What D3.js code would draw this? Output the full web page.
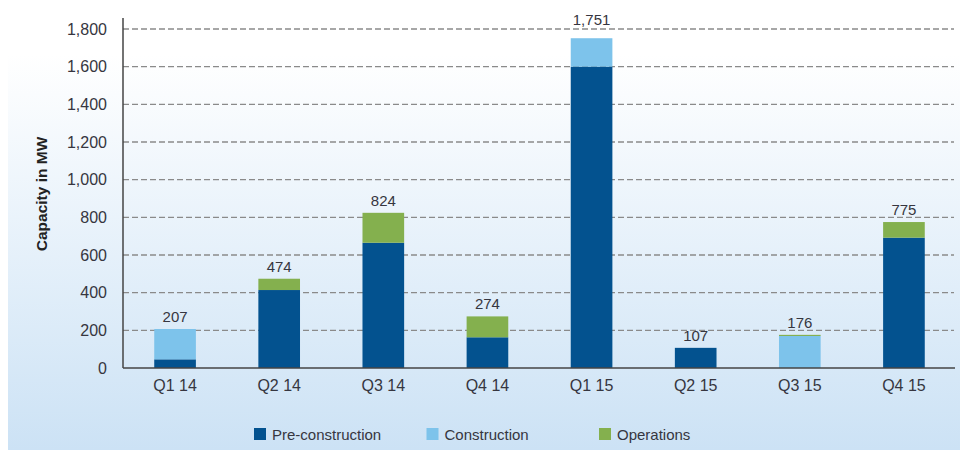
<!DOCTYPE html>
<html>
<head>
<meta charset="utf-8">
<script src="https://cdn.jsdelivr.net/npm/d3@7"></script>
<style>
    body { margin: 0; background: #fff; }
    svg text { font-family: "Liberation Sans", Arial, sans-serif; fill: #363640; }
</style>
</head>
<body>
<div id="capacityChart"></div>
<script>
// Chart data
var quarters = ["Q1 14", "Q2 14", "Q3 14", "Q4 14", "Q1 15", "Q2 15", "Q3 15", "Q4 15"];
var preConstruction = [46, 414, 665, 163, 1600, 107, 0, 692];
var construction = [161, 0, 0, 0, 151, 0, 170, 0];
var operations = [0, 60, 159, 111, 0, 0, 6, 83];
var totals = [207, 474, 824, 274, 1751, 107, 176, 775];
var yTicks = [0, 200, 400, 600, 800, 1000, 1200, 1400, 1600, 1800];
var seriesKeys = ["Pre-construction", "Construction", "Operations"];
var seriesColors = ["#03528f", "#7dc3eb", "#84b04e"];

// Setting chart parameters
var properties = { width: 960, height: 450 };
var plot = { left: 123, right: 956, top: 18, bottom: 368 };

var svg = d3.select("#capacityChart")
    .append("svg")
    .attr("width", properties.width)
    .attr("height", properties.height);

// Background gradient panel
var grad = svg.append("defs").append("linearGradient")
    .attr("id", "bgGrad")
    .attr("x1", 0).attr("y1", 0).attr("x2", 0).attr("y2", 1);
grad.append("stop").attr("offset", "0.12").attr("stop-color", "#ffffff");
grad.append("stop").attr("offset", "1").attr("stop-color", "#cce2f5");

svg.append("rect")
    .attr("x", 8).attr("y", 0)
    .attr("width", properties.width - 8)
    .attr("height", properties.height)
    .attr("fill", "url(#bgGrad)");

// Building rows for stacking
var rows = quarters.map(function (q, i) {
    return {
        quarter: q,
        "Pre-construction": preConstruction[i],
        "Construction": construction[i],
        "Operations": operations[i],
        total: totals[i]
    };
});

var xScale = d3.scaleBand()
    .domain(quarters)
    .range([plot.left, plot.right])
    .paddingInner(0.6)
    .paddingOuter(0.3);

var yScale = d3.scaleLinear()
    .domain([0, 1800])
    .range([plot.bottom, 29]);

var colorScale = d3.scaleOrdinal().domain(seriesKeys).range(seriesColors);

// Dashed gridlines
svg.append("g")
    .attr("class", "grid")
    .selectAll("line")
    .data(yTicks.filter(function (d) { return d > 0; }))
    .enter()
    .append("line")
    .attr("x1", plot.left)
    .attr("x2", 954)
    .attr("y1", function (d) { return yScale(d); })
    .attr("y2", function (d) { return yScale(d); })
    .attr("stroke", "#8a8a8a")
    .attr("stroke-width", 1.3)
    .attr("stroke-dasharray", "6,3");

// Stacked bars
var stacked = d3.stack().keys(seriesKeys)(rows);

svg.append("g")
    .selectAll("g")
    .data(stacked)
    .enter()
    .append("g")
    .attr("fill", function (d) { return colorScale(d.key); })
    .selectAll("rect")
    .data(function (d) { return d; })
    .enter()
    .append("rect")
    .attr("x", function (d) { return xScale(d.data.quarter); })
    .attr("width", xScale.bandwidth())
    .attr("y", function (d) { return yScale(d[1]); })
    .attr("height", function (d) { return yScale(d[0]) - yScale(d[1]); });

// Total labels (lifted above the top gridline when they would cross it)
var topLine = yScale(1800);
svg.append("g")
    .selectAll("text")
    .data(rows)
    .enter()
    .append("text")
    .attr("x", function (d) { return xScale(d.quarter) + xScale.bandwidth() / 2; })
    .attr("y", function (d) {
        var y = yScale(d.total) - 7;
        return (y > topLine - 4 && y < topLine + 12) ? topLine - 4 : y;
    })
    .attr("text-anchor", "middle")
    .attr("font-size", 15)
    .text(function (d) { return d3.format(",")(d.total); });

// Y axis
var yAxis = svg.append("g")
    .attr("transform", "translate(" + plot.left + ",0)")
    .call(d3.axisLeft(yScale).tickValues(yTicks).tickFormat(d3.format(",")).tickSize(0).tickPadding(16));
yAxis.select(".domain").remove();
yAxis.selectAll("text").attr("font-size", 16).attr("font-family", null).attr("fill", null);

svg.append("line")
    .attr("x1", plot.left).attr("x2", plot.left)
    .attr("y1", plot.top).attr("y2", plot.bottom)
    .attr("stroke", "#444").attr("stroke-width", 1.5);

// X axis
var xAxis = svg.append("g")
    .attr("transform", "translate(0," + plot.bottom + ")")
    .call(d3.axisBottom(xScale).tickSize(0).tickPadding(12));
xAxis.select(".domain").remove();
xAxis.selectAll("text").attr("font-size", 16).attr("font-family", null).attr("fill", null);

svg.append("line")
    .attr("x1", plot.left).attr("x2", 955)
    .attr("y1", plot.bottom).attr("y2", plot.bottom)
    .attr("stroke", "#444").attr("stroke-width", 1.5);

// Y axis title
svg.append("text")
    .attr("transform", "translate(47,194) rotate(-90)")
    .attr("text-anchor", "middle")
    .attr("font-size", 15.5)
    .attr("font-weight", "bold")
    .style("fill", "#222")
    .text("Capacity in MW");

// Legend
var legendX = d3.scalePoint().domain(seriesKeys).range([254, 599]);

var legend = svg.append("g")
    .selectAll("g")
    .data(seriesKeys)
    .enter()
    .append("g")
    .attr("transform", function (d) { return "translate(" + legendX(d) + ",428)"; });

legend.append("rect")
    .attr("width", 12)
    .attr("height", 12)
    .attr("fill", function (d) { return colorScale(d); });

legend.append("text")
    .attr("x", 18)
    .attr("y", 12)
    .attr("font-size", 15)
    .text(function (d) { return d; });
</script>
</body>
</html>
